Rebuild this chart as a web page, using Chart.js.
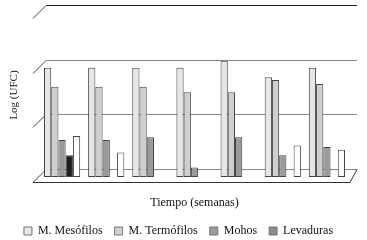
<!DOCTYPE html>
<html>
<head>
<meta charset="utf-8">
<script src="https://cdn.jsdelivr.net/npm/chart.js@4.4.1/dist/chart.umd.min.js"></script>
<style>
  html, body { margin: 0; padding: 0; background: #fff; }
  #wrap { width: 367px; height: 240px; }
</style>
</head>
<body>
<div id="wrap"><canvas id="grafico"></canvas></div>
<script>
// Datos (Log UFC por semana)
const semanas = ['0', '1', '2', '3', '4', '5', '6'];
const mesofilos = [8.0, 8.0, 8.0, 8.0, 8.5, 7.3, 8.0];
const termofilos = [6.6, 6.6, 6.6, 6.2, 6.2, 7.1, 6.8];
const mohos = [2.7, 2.7, 2.9, 0.7, 2.9, 1.6, 2.2];
const levaduras = [1.6, null, null, null, null, null, null];
const otros = [3.0, 1.8, null, null, null, 2.3, 2.0];
const yTicks = [0, 4, 8, 12];

const fuente = "'Liberation Serif', 'DejaVu Serif', serif";
Chart.defaults.font.family = fuente;
Chart.defaults.color = '#111';

// paredes "3D" al estilo Excel
const pared3D = {
    id: 'pared3D',
    afterLayout(chart) {
        // bajar un poco la leyenda
        chart.legend.top += 3;
        chart.legend.bottom += 3;
    },
    beforeDatasetsDraw(chart) {
        const ctx = chart.ctx;
        const area = chart.chartArea;
        const y = chart.scales.y;
        const dxB = 6, dyB = -8, dxF = -7, dyF = 5;
        ctx.save();
        ctx.lineWidth = 1;
        yTicks.forEach(function (v, i) {
            const py = Math.round(y.getPixelForValue(v)) + 0.5;
            ctx.strokeStyle = i === yTicks.length - 1 ? '#222' : '#8a8a8a';
            ctx.beginPath();
            ctx.moveTo(area.left + dxB, py + dyB);
            ctx.lineTo(area.right + dxB + 2, py + dyB);
            ctx.stroke();
            ctx.strokeStyle = '#444';
            ctx.beginPath();
            ctx.moveTo(area.left + dxF, py + dyF);
            ctx.lineTo(area.left + dxB, py + dyB);
            ctx.stroke();
        });
        // piso
        const p0 = Math.round(y.getPixelForValue(0)) + 0.5;
        ctx.strokeStyle = '#333';
        ctx.beginPath();
        ctx.moveTo(area.left + dxF, p0 + dyF);
        ctx.lineTo(area.right + 1, p0 + dyF);
        ctx.lineTo(area.right + dxB + 2, p0 + dyB);
        ctx.stroke();
        ctx.restore();
    }
};

const ctx = document.getElementById('grafico').getContext('2d');
new Chart(ctx, {
    type: 'bar',
    data: {
        labels: semanas,
        datasets: [
            { label: 'M. Mesófilos', data: mesofilos, backgroundColor: '#e6e6e6' },
            { label: 'M. Termófilos', data: termofilos, backgroundColor: '#cfcfcf' },
            { label: 'Mohos', data: mohos, backgroundColor: '#9a9a9a' },
            { label: 'Levaduras', data: levaduras, backgroundColor: '#1e1e1e' },
            { label: '', data: otros, backgroundColor: '#ffffff' }
        ]
    },
    options: {
        responsive: true,
        maintainAspectRatio: false,
        animation: false,
        layout: { padding: { left: 8, right: 18, top: 13, bottom: 0 } },
        datasets: {
            bar: {
                barPercentage: 1,
                categoryPercentage: 0.82,
                borderColor: '#444',
                borderWidth: 1,
                borderSkipped: false
            }
        },
        plugins: {
            legend: {
                position: 'bottom',
                maxHeight: 30,
                labels: {
                    font: { family: fuente, size: 12 },
                    color: '#111',
                    boxWidth: 8,
                    boxHeight: 8,
                    padding: 12,
                    filter: function (item) { return item.text !== ''; },
                    generateLabels: function (chart) {
                        const items = Chart.defaults.plugins.legend.labels.generateLabels(chart);
                        items.forEach(function (it) {
                            it.strokeStyle = '#777';
                            it.lineWidth = 1;
                            if (it.text === 'Levaduras') it.fillStyle = '#8c8c8c';
                        });
                        return items;
                    }
                }
            },
            tooltip: { enabled: false }
        },
        scales: {
            x: {
                grid: { display: false, drawTicks: false },
                border: { display: false },
                ticks: { display: false },
                title: {
                    display: true,
                    text: 'Tiempo (semanas)',
                    font: { family: fuente, size: 12 },
                    color: '#111',
                    padding: 0
                },
                afterFit: function (s) { s.height = 33; }
            },
            y: {
                min: 0,
                max: 12,
                grid: { display: false, drawTicks: false },
                border: { display: false },
                ticks: { display: false, stepSize: 4 },
                title: {
                    display: true,
                    text: 'Log (UFC)',
                    font: { family: fuente, size: 11 },
                    color: '#111',
                    padding: 0
                },
                afterFit: function (s) { s.width = 32; }
            }
        }
    },
    plugins: [pared3D]
});
</script>
</body>
</html>
